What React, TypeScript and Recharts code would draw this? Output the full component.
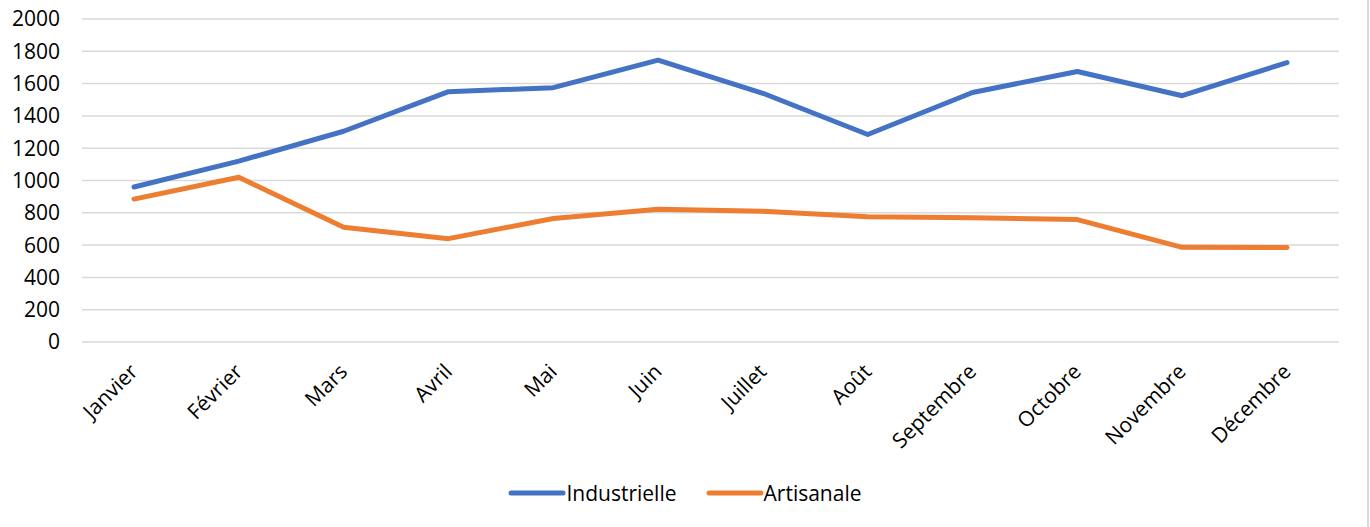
import React from "react";
import {
  LineChart,
  Line,
  XAxis,
  YAxis,
  CartesianGrid,
  Legend,
} from "recharts";

const months = [
  "Janvier",
  "Février",
  "Mars",
  "Avril",
  "Mai",
  "Juin",
  "Juillet",
  "Août",
  "Septembre",
  "Octobre",
  "Novembre",
  "Décembre",
];

const industrielle = [960, 1120, 1305, 1550, 1575, 1745, 1540, 1285, 1545, 1675, 1525, 1730];
const artisanale = [885, 1020, 710, 640, 765, 822, 810, 775, 770, 758, 586, 585];

const yTicks = [0, 200, 400, 600, 800, 1000, 1200, 1400, 1600, 1800, 2000];

const data = months.map((m, i) => ({
  month: m,
  Industrielle: industrielle[i],
  Artisanale: artisanale[i],
}));

const FONT = "'Open Sans', sans-serif";
const BLUE = "#4472C4";
const ORANGE = "#ED7D31";

function MonthTick(props: any) {
  const { x, y, payload } = props;
  const ax = x + 5;
  const ay = y + 23;
  return (
    <text
      x={ax}
      y={ay}
      transform={`rotate(-45 ${ax} ${ay})`}
      textAnchor="end"
      fill="#000"
      fontSize={21}
      fontFamily={FONT}
    >
      {payload.value}
    </text>
  );
}

function LegendBox() {
  const items = [
    { name: "Industrielle", color: BLUE },
    { name: "Artisanale", color: ORANGE },
  ];
  return (
    <div
      style={{
        height: 30,
        display: "flex",
        justifyContent: "center",
        alignItems: "center",
        gap: 29,
        fontFamily: FONT,
        fontSize: 21,
        color: "#000",
      }}
    >
      {items.map((it) => (
        <div key={it.name} style={{ display: "flex", alignItems: "center" }}>
          <svg width={58} height={10}>
            <line x1={3} y1={5} x2={55} y2={5} stroke={it.color} strokeWidth={5} strokeLinecap="round" />
          </svg>
          <span>{it.name}</span>
        </div>
      ))}
    </div>
  );
}

export default function App() {
  return (
    <div
      style={{
        position: "absolute",
        left: 0,
        top: 0,
        width: 1370,
        height: 527,
        background: "#fff",
      }}
    >
      <div
        style={{
          position: "absolute",
          left: 1367,
          top: 0,
          width: 2,
          height: 527,
          background: "#D9D9D9",
        }}
      />
      <LineChart
        width={1370}
        height={527}
        data={data}
        margin={{ top: 19, right: 31, bottom: 19, left: 0 }}
      >
        <CartesianGrid vertical={false} stroke="#D9D9D9" strokeWidth={1.5} />
        <XAxis
          dataKey="month"
          axisLine={false}
          tickLine={false}
          interval={0}
          height={136}
          padding={{ left: 52, right: 52 }}
          tick={<MonthTick />}
        />
        <YAxis
          domain={[0, 2000]}
          ticks={yTicks}
          width={82}
          axisLine={false}
          tickLine={false}
          tickSize={0}
          tickMargin={22}
          tick={{ fill: "#000", fontSize: 21, fontFamily: FONT }}
        />
        <Legend
          verticalAlign="bottom"
          wrapperStyle={{ left: 0, width: 1370 }}
          content={() => <LegendBox />}
        />
        <Line
          type="linear"
          dataKey="Industrielle"
          stroke={BLUE}
          strokeWidth={5}
          strokeLinecap="round"
          strokeLinejoin="round"
          dot={false}
          activeDot={false}
          isAnimationActive={false}
        />
        <Line
          type="linear"
          dataKey="Artisanale"
          stroke={ORANGE}
          strokeWidth={5}
          strokeLinecap="round"
          strokeLinejoin="round"
          dot={false}
          activeDot={false}
          isAnimationActive={false}
        />
      </LineChart>
    </div>
  );
}
